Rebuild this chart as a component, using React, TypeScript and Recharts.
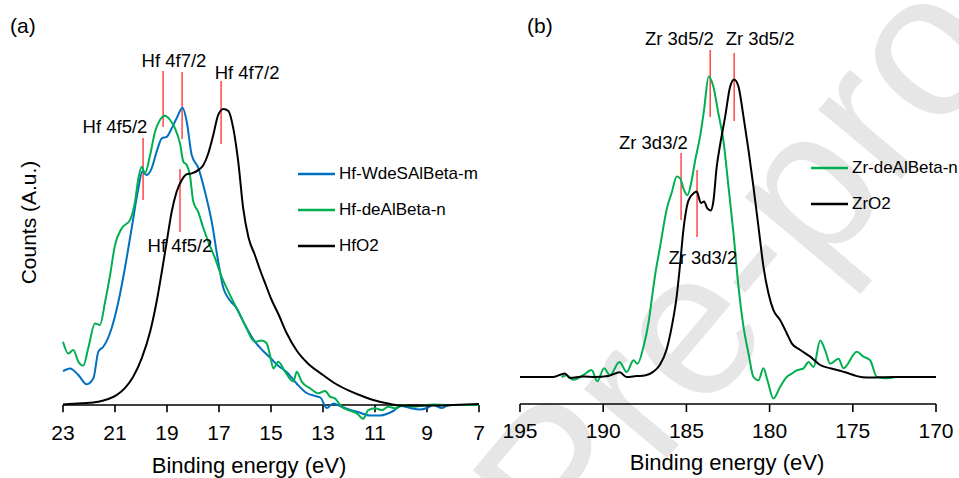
import React from 'react';
import { LineChart, Line, XAxis, YAxis, ReferenceLine, ReferenceDot, Legend } from 'recharts';

type Pt = [number, number];

const FONT = '"Liberation Sans", Arial, Helvetica, sans-serif';
const BLUE = '#0070c0';
const GREEN = '#00b050';
const RED = '#ff2a2a';

// (a) Hf 4f region: [binding energy (eV), counts (a.u.)]
const hfTicks = [23, 21, 19, 17, 15, 13, 11, 9, 7];

const hfWdeSAlBetaM: Pt[] = [
  [23.0, 11.3], [22.73, 12.2], [22.41, 10], [22.09, 6.9], [21.83, 8.9], [21.64, 17.8],
  [21.45, 19.4], [21.13, 25.6], [20.87, 34.4], [20.62, 45.6], [20.36, 58.9], [20.1, 72.2],
  [19.95, 77.8], [19.78, 76.7], [19.59, 78.9], [19.4, 84.4], [19.2, 88.9], [19.01, 89.4],
  [18.82, 92.2], [18.63, 95.6], [18.4, 99.1], [18.24, 94.4], [18.05, 83.3], [17.79, 78.9],
  [17.54, 71.1], [17.28, 61.1], [17.03, 47.8], [16.83, 38.9], [16.64, 35.6], [16.32, 32.2],
  [16.0, 26.7], [15.62, 21.1], [15.3, 18], [15.0, 15.5], [14.78, 13.5], [14.4, 11],
  [14.0, 7], [13.63, 4], [13.3, 3], [13.1, 2.5], [12.86, -1], [12.6, 0.5], [12.3, -0.5],
  [12.0, -1.5], [11.6, -2.5], [11.2, -3.5], [10.8, -3.5], [10.55, -3], [10.3, -2],
  [10.0, -0.3], [9.65, -1], [9.27, -1.5], [9.0, -1], [8.76, 0], [8.43, -1], [8.24, -0.3], [8.0, 0],
];

const hfDeAlBetaN: Pt[] = [
  [23.0, 21.1], [22.8, 17.2], [22.6, 18.3], [22.41, 14.4], [22.22, 13.1], [22.03, 18.9],
  [21.77, 27.2], [21.58, 26.7], [21.38, 34.4], [21.19, 43.3], [21.0, 53.3], [20.74, 58.9],
  [20.42, 61.7], [20.23, 67.8], [20.1, 75.6], [19.97, 79.4], [19.85, 77.2], [19.65, 83.3],
  [19.46, 91.1], [19.27, 95], [19.08, 96.4], [18.88, 95], [18.69, 92.2], [18.5, 87.2],
  [18.37, 81.1], [18.24, 80], [18.12, 76.7], [17.99, 67.8], [17.8, 64.4], [17.6, 58.9],
  [17.41, 54.4], [17.15, 48.9], [16.9, 42.8], [16.64, 37.8], [16.32, 32.2], [16.0, 26.7],
  [15.62, 21.1], [15.36, 21.5], [15.17, 20.6], [15.04, 16.7], [14.91, 12.2], [14.72, 14.4],
  [14.46, 11.1], [14.14, 7.8], [14.01, 11.1], [13.82, 7.8], [13.5, 5.6], [13.18, 3.9],
  [12.92, 4.7], [12.73, 2.8], [12.54, 2.2], [12.28, -0.6], [12.03, -1.7], [11.7, -2.8],
  [11.45, -4.6], [11.26, -1.7], [11.0, -1.1], [10.74, -1.7], [10.49, -0.6], [10.23, -1.1],
  [9.91, 0], [9.53, -0.6], [9.14, -0.2], [8.76, 0.2], [8.24, 0], [7.73, 0], [7.0, 0],
];

const hfO2: Pt[] = [
  [23.0, 0.2], [22.28, 0.6], [21.64, 1.1], [21.26, 2.0], [20.94, 3.3], [20.62, 5.6],
  [20.3, 9.4], [19.97, 15.6], [19.65, 24.4], [19.4, 34.4], [19.2, 44.4], [19.01, 54.4],
  [18.82, 64.4], [18.63, 71.1], [18.43, 75], [18.24, 76.9], [18.05, 77.2], [17.8, 78.3],
  [17.6, 80], [17.41, 83.9], [17.22, 90], [17.03, 96.7], [16.83, 98.7], [16.64, 98],
  [16.45, 92.2], [16.26, 81.1], [16.07, 65.6], [15.87, 56], [15.62, 50], [15.42, 45],
  [15.2, 40], [15.0, 35.5], [14.7, 30], [14.4, 24], [14.0, 18], [13.6, 14], [13.0, 10],
  [12.5, 7], [12.0, 4.8], [11.5, 3], [11.0, 1.5], [10.5, 0.5], [10.0, -0.2], [9.0, -0.2],
  [8.0, 0], [7.0, 0.3],
];

// red peak markers (energy, counts from, counts to) and their labels
const hfMarkers = [
  { e: 19.15, from: 92.7, to: 111.3 },
  { e: 18.42, from: 88.7, to: 111 },
  { e: 16.92, from: 87, to: 108 },
  { e: 19.92, from: 68.3, to: 89 },
  { e: 18.5, from: 57.7, to: 78.7 },
];
const hfLabels = [
  { text: 'Hf 4f7/2', e: 18.73, c: 115 },
  { text: 'Hf 4f7/2', e: 15.92, c: 111 },
  { text: 'Hf 4f5/2', e: 21.0, c: 92.8 },
  { text: 'Hf 4f5/2', e: 18.5, c: 53.3 },
];

// (b) Zr 3d region
const zrTicks = [195, 190, 185, 180, 175, 170];

const zrDeAlBetaN: Pt[] = [
  [192.5, 0], [192.2, 0.6], [191.8, -0.9], [191.2, 0.6], [190.7, 2.3], [190.35, -1.4],
  [189.95, 2.9], [189.59, 0.6], [189.03, 5.0], [188.58, 1.7], [188.18, 5.6], [187.94, 4.4],
  [187.58, 10.1], [187.28, 18], [187.08, 26], [186.88, 34], [186.58, 43.5], [186.18, 56],
  [185.88, 61.5], [185.58, 66.8], [185.38, 66.2], [185.14, 62.3], [184.94, 60.6],
  [184.68, 65.6], [184.48, 72], [184.18, 80.1], [183.94, 89], [183.66, 100.2], [183.38, 96.8],
  [183.08, 87.9], [182.78, 79], [182.47, 63.4], [182.17, 47.9], [181.87, 30.1], [181.57, 16.8],
  [181.27, 7.9], [180.97, 0], [180.67, -1.1], [180.37, 2.9], [180.13, -1.1], [179.77, -7.2],
  [179.37, -3.3], [178.97, 0], [178.67, 1.1], [178.37, 2.2], [177.96, 2.9], [177.66, 5],
  [177.36, 3.3], [176.96, 12.2], [176.66, 8.9], [176.36, 4.4], [175.86, 6.1], [175.56, 2.9],
  [174.76, 8.4], [174.36, 6.8], [173.96, 5.6], [173.55, 0], [172.95, -0.4], [172.45, 0],
];

const zrO2: Pt[] = [
  [195, 0], [193.0, 0], [192.3, 1.2], [192.0, -0.3], [191.2, 0.2], [190.5, 0], [189.7, 0.3],
  [189.0, 1.6], [188.6, 0], [188.0, 0.3], [187.5, 0.5], [187.0, 1.7], [186.6, 4], [186.2, 9],
  [185.88, 16.8], [185.58, 27], [185.38, 37.5], [185.18, 49], [184.88, 58.8], [184.58, 61.2],
  [184.38, 61.8], [184.13, 58], [183.94, 58.5], [183.74, 56.2], [183.54, 55.5], [183.38, 58.5],
  [183.18, 70], [182.97, 77.5], [182.67, 86.8], [182.37, 96.8], [182.13, 99.2], [181.87, 96.8],
  [181.57, 86.8], [181.27, 75.7], [180.97, 63.4], [180.67, 50.1], [180.37, 36.8], [180.07, 27.9],
  [179.77, 22.3], [179.37, 19], [178.97, 14.6], [178.67, 11.2], [178.16, 9], [177.56, 6.8],
  [176.96, 4], [176.36, 2.9], [175.76, 2.1], [175.36, 1.4], [174.76, 0.3], [174.16, -0.2],
  [173.35, -0.1], [172.55, 0], [170, 0],
];

const zrMarkers = [
  { e: 183.57, from: 86.7, to: 109 },
  { e: 182.13, from: 85.3, to: 108 },
  { e: 185.32, from: 52.3, to: 74.7 },
  { e: 184.36, from: 46.7, to: 69 },
];
const zrLabels = [
  { text: 'Zr 3d5/2', e: 185.42, c: 113 },
  { text: 'Zr 3d5/2', e: 180.57, c: 113 },
  { text: 'Zr 3d3/2', e: 186.98, c: 78.3 },
  { text: 'Zr 3d3/2', e: 184.01, c: 39.7 },
];

const toRows = (pts: Pt[]) => pts.map(([e, c]) => ({ e, c }));

function LegendList({ payload }: any) {
  return (
    <div style={{ whiteSpace: 'nowrap' }}>
      {(payload || []).map((p: any) => (
        <div key={p.value} style={{ display: 'flex', alignItems: 'center', height: 36 }}>
          <svg width={37} height={6}>
            <line x1={0} y1={3} x2={37} y2={3} stroke={p.color} strokeWidth={2.5} />
          </svg>
          <span style={{ marginLeft: 4, fontSize: 17, color: '#000' }}>{p.value}</span>
        </div>
      ))}
    </div>
  );
}

const axisTitle = (shift: number, drop: number) => (p: any) => {
  const vb = p.viewBox;
  return (
    <text x={vb.x + vb.width / 2 + shift} y={vb.y + drop} textAnchor="middle" fontSize={22} fill="#000">
      Binding energy (eV)
    </text>
  );
};

function HfChart() {
  return (
    <LineChart width={500} height={478} margin={{ top: 45, right: 21, bottom: 0, left: 63 }}>
      <XAxis
        dataKey="e"
        type="number"
        domain={[7, 23]}
        reversed
        ticks={hfTicks}
        interval={0}
        axisLine={false}
        tickLine={false}
        tickSize={0}
        tickMargin={2}
        height={55}
        tick={{ fill: '#000', fontSize: 21 }}
        label={{ content: axisTitle(-22, 49.7) }}
      />
      <YAxis hide type="number" domain={[-6, 120]} allowDataOverflow />
      <ReferenceLine y={0} stroke="#000" strokeWidth={1.6} />
      {hfTicks.map((t) => (
        <ReferenceLine key={`t${t}`} segment={[{ x: t, y: 0 }, { x: t, y: -2.4 }]} stroke="#000" strokeWidth={1.6} />
      ))}
      {hfMarkers.map((m, i) => (
        <ReferenceLine key={`m${i}`} segment={[{ x: m.e, y: m.from }, { x: m.e, y: m.to }]} stroke={RED} strokeWidth={1.3} />
      ))}
      {hfLabels.map((l, i) => (
        <ReferenceDot
          key={`l${i}`}
          x={l.e}
          y={l.c}
          r={0}
          fill="none"
          stroke="none"
          label={{ value: l.text, position: 'center', fill: '#000', fontSize: 18.5 }}
        />
      ))}
      <Line data={toRows(hfWdeSAlBetaM)} dataKey="c" name="Hf-WdeSAlBeta-m" type="monotone" stroke={BLUE} strokeWidth={2} dot={false} isAnimationActive={false} />
      <Line data={toRows(hfDeAlBetaN)} dataKey="c" name="Hf-deAlBeta-n" type="monotone" stroke={GREEN} strokeWidth={2} dot={false} isAnimationActive={false} />
      <Line data={toRows(hfO2)} dataKey="c" name="HfO2" type="monotone" stroke="#000" strokeWidth={2} dot={false} isAnimationActive={false} />
      <Legend
        layout="vertical"
        align="center"
        verticalAlign="middle"
        content={<LegendList />}
        wrapperStyle={{ left: 298, top: 156, width: 200, height: 'auto' }}
      />
    </LineChart>
  );
}

function ZrChart() {
  return (
    <LineChart width={479} height={478} margin={{ top: 2, right: 23, bottom: 0, left: 40 }}>
      <XAxis
        dataKey="e"
        type="number"
        domain={[170, 195]}
        reversed
        ticks={zrTicks}
        interval={0}
        axisLine={{ stroke: '#000', strokeWidth: 1.6 }}
        tickLine={{ stroke: '#000', strokeWidth: 1.6 }}
        tickSize={8}
        tickMargin={11}
        height={74}
        tick={{ fill: '#000', fontSize: 21 }}
        label={{ content: axisTitle(-1, 66) }}
      />
      <YAxis hide type="number" domain={[-9, 125]} allowDataOverflow />
      {zrMarkers.map((m, i) => (
        <ReferenceLine key={`m${i}`} segment={[{ x: m.e, y: m.from }, { x: m.e, y: m.to }]} stroke={RED} strokeWidth={1.3} />
      ))}
      {zrLabels.map((l, i) => (
        <ReferenceDot
          key={`l${i}`}
          x={l.e}
          y={l.c}
          r={0}
          fill="none"
          stroke="none"
          label={{ value: l.text, position: 'center', fill: '#000', fontSize: 18.5 }}
        />
      ))}
      <Line data={toRows(zrDeAlBetaN)} dataKey="c" name="Zr-deAlBeta-n" type="monotone" stroke={GREEN} strokeWidth={2} dot={false} isAnimationActive={false} />
      <Line data={toRows(zrO2)} dataKey="c" name="ZrO2" type="monotone" stroke="#000" strokeWidth={2} dot={false} isAnimationActive={false} />
      <Legend
        layout="vertical"
        align="center"
        verticalAlign="middle"
        content={<LegendList />}
        wrapperStyle={{ left: 331, top: 150, width: 200, height: 'auto' }}
      />
    </LineChart>
  );
}

export default function App() {
  return (
    <div
      style={{
        position: 'absolute',
        left: 0,
        top: 0,
        width: 959,
        height: 478,
        overflow: 'hidden',
        background: '#fff',
        fontFamily: FONT,
      }}
    >
      <svg width={959} height={478} style={{ position: 'absolute', left: 0, top: 0 }}>
        <text x={570} y={574} transform="rotate(-50 570 574)" fontSize={205} fill="#e6e6e6">
          Pre-proof
        </text>
        <text x={10} y={33} fontSize={21} fill="#000">(a)</text>
        <text x={527} y={33} fontSize={21} fill="#000">(b)</text>
        <text x={36} y={222.5} fontSize={21} fill="#000" textAnchor="middle" transform="rotate(-90 36 222.5)">
          Counts (A.u.)
        </text>
      </svg>
      <div style={{ position: 'absolute', left: 0, top: 0 }}>
        <HfChart />
      </div>
      <div style={{ position: 'absolute', left: 480, top: 0 }}>
        <ZrChart />
      </div>
    </div>
  );
}
